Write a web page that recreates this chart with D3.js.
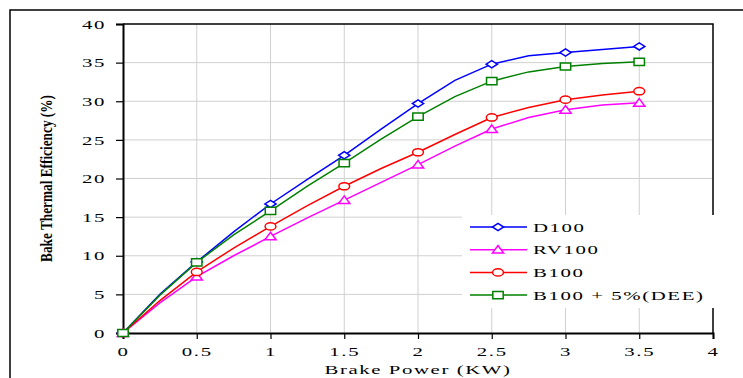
<!DOCTYPE html>
<html>
<head>
<meta charset="utf-8">
<script src="https://cdn.jsdelivr.net/npm/d3@7"></script>
<style>
  body { margin: 0; background: #fff; }
  svg { display: block; font-family: "Liberation Serif", "Times New Roman", serif; }
</style>
</head>
<body>
<svg id="chart" width="743" height="378"></svg>
<script>
// data
const power = [0, 0.25, 0.5, 0.75, 1, 1.25, 1.5, 1.75, 2, 2.25, 2.5, 2.75, 3, 3.25, 3.5];
const d100 = [0, 5.0, 9.2, 13.1, 16.7, 19.9, 23.0, 26.4, 29.7, 32.7, 34.8, 35.9, 36.3, 36.7, 37.1];
const rv100 = [0, 3.9, 7.3, 10.0, 12.5, 14.9, 17.2, 19.5, 21.8, 24.2, 26.4, 27.9, 28.9, 29.5, 29.8];
const b100 = [0, 4.2, 7.9, 11.0, 13.8, 16.5, 19.0, 21.3, 23.4, 25.7, 27.9, 29.2, 30.2, 30.8, 31.3];
const b100dee = [0, 4.9, 9.15, 12.7, 15.8, 19.0, 22.0, 25.1, 28.0, 30.6, 32.6, 33.8, 34.5, 34.9, 35.1];

const seriesNames = ["D100", "RV100", "B100", "B100 + 5%(DEE)"];
const seriesValues = [d100, rv100, b100, b100dee];
const seriesColors = ["#0000ff", "#ff00ff", "#ff0000", "#008000"];
const seriesMarkers = ["diamond", "triangle", "circle", "square"];

const xTicks = [0, 0.5, 1, 1.5, 2, 2.5, 3, 3.5, 4];
const yTicks = [0, 5, 10, 15, 20, 25, 30, 35, 40];

const svg = d3.select("#chart");
const margin = {t: 24, r: 30, b: 45, l: 123};
const W = 743, H = 378;

const x = d3.scaleLinear().domain([0, 4]).range([margin.l, W - margin.r]);
const y = d3.scaleLinear().domain([0, 40]).range([H - margin.b, margin.t]);

// stretched serif text like the original
const SX = 1.6;

// outer frame (partly cropped)
svg.append("path")
  .attr("d", `M10,${H} L10,10 L${W},10`)
  .attr("fill", "none").attr("stroke", "#000").attr("stroke-width", 1.5);

// grid
svg.append("g").selectAll("line")
  .data(xTicks.filter(d => d > 0 && d < 4))
  .join("line")
  .attr("x1", d => x(d)).attr("x2", d => x(d))
  .attr("y1", y(0)).attr("y2", y(40))
  .attr("stroke", "#d0d0d0").attr("stroke-width", 1);
svg.append("g").selectAll("line")
  .data(yTicks.filter(d => d > 0 && d < 40))
  .join("line")
  .attr("x1", x(0)).attr("x2", x(4))
  .attr("y1", d => y(d)).attr("y2", d => y(d))
  .attr("stroke", "#d0d0d0").attr("stroke-width", 1);

// top and right border
svg.append("path")
  .attr("d", `M${x(0)},${y(40)} L${x(4)},${y(40)} L${x(4)},${y(0)}`)
  .attr("fill", "none").attr("stroke", "#000").attr("stroke-width", 1.5);

// axes
const xAxis = svg.append("g")
  .attr("transform", `translate(0,${y(0)})`)
  .call(d3.axisBottom(x).tickValues(xTicks).tickSize(6).tickFormat(d3.format("")));
const yAxis = svg.append("g")
  .attr("transform", `translate(${x(0)},0)`)
  .call(d3.axisLeft(y).tickValues(yTicks).tickSize(7));

[xAxis, yAxis].forEach(a => {
  a.select(".domain").attr("stroke", "#000").attr("stroke-width", 2);
  a.selectAll(".tick line").attr("stroke", "#000").attr("stroke-width", 1.2);
  a.selectAll(".tick text")
    .attr("font-family", "Liberation Serif")
    .attr("font-size", 13)
    .attr("letter-spacing", 1)
    .attr("fill", "#000");
});
xAxis.selectAll(".tick text").attr("y", 13.8).attr("transform", `scale(${SX},1)`);
yAxis.selectAll(".tick text").attr("x", -17 / SX).attr("transform", `scale(${SX},1)`);

// axis titles
svg.append("text")
  .attr("transform", `translate(${x(2)},${H - 4}) scale(${SX},1)`)
  .attr("text-anchor", "middle")
  .attr("font-size", 13)
  .attr("letter-spacing", 1)
  .text("Brake Power (KW)");

svg.append("text")
  .attr("transform", `translate(52,${y(20)}) scale(${SX},1) rotate(-90)`)
  .attr("text-anchor", "middle")
  .attr("font-size", 11)
  .attr("font-weight", "bold")
  .attr("textLength", 167)
  .attr("lengthAdjust", "spacingAndGlyphs")
  .text("Bake Thermal Efficiency (%)");

// marker shapes, flattened like the original
function markerPath(type) {
  if (type === "diamond") return "M0,-3.6 L5.6,0 L0,3.6 L-5.6,0 Z";
  if (type === "triangle") return "M0,-4.2 L5.6,3.4 L-5.6,3.4 Z";
  if (type === "square") return "M-5.2,-3.6 H5.2 V3.6 H-5.2 Z";
  return "M-5.4,0 A5.4,3.6 0 1,0 5.4,0 A5.4,3.6 0 1,0 -5.4,0 Z";
}

const line = d3.line().x(d => x(d[0])).y(d => y(d[1]));

seriesValues.forEach((vals, i) => {
  const pts = power.map((p, j) => [p, vals[j]]);
  const g = svg.append("g");
  g.append("path")
    .attr("d", line(pts))
    .attr("fill", "none")
    .attr("stroke", seriesColors[i])
    .attr("stroke-width", 1.5);
  g.selectAll("path.m")
    .data(pts.filter(d => d[0] % 0.5 === 0))
    .join("path")
    .attr("class", "m")
    .attr("transform", d => `translate(${x(d[0])},${y(d[1])})`)
    .attr("d", markerPath(seriesMarkers[i]))
    .attr("fill", "#fff")
    .attr("stroke", seriesColors[i])
    .attr("stroke-width", 1.5);
});

// legend
const legend = svg.append("g").attr("transform", "translate(462,215)");
legend.append("rect")
  .attr("width", 253).attr("height", 93)
  .attr("fill", "#fff");
seriesNames.forEach((name, i) => {
  const ly = 12 + i * 22.7;
  legend.append("line")
    .attr("x1", 8).attr("x2", 65)
    .attr("y1", ly).attr("y2", ly)
    .attr("stroke", seriesColors[i]).attr("stroke-width", 1.5);
  legend.append("path")
    .attr("transform", `translate(36,${ly})`)
    .attr("d", markerPath(seriesMarkers[i]))
    .attr("fill", "#fff")
    .attr("stroke", seriesColors[i]).attr("stroke-width", 1.5);
  legend.append("text")
    .attr("transform", `translate(71,${ly + 4.5}) scale(${SX},1)`)
    .attr("font-size", 13)
    .attr("letter-spacing", 1)
    .text(name);
});
</script>
</body>
</html>
